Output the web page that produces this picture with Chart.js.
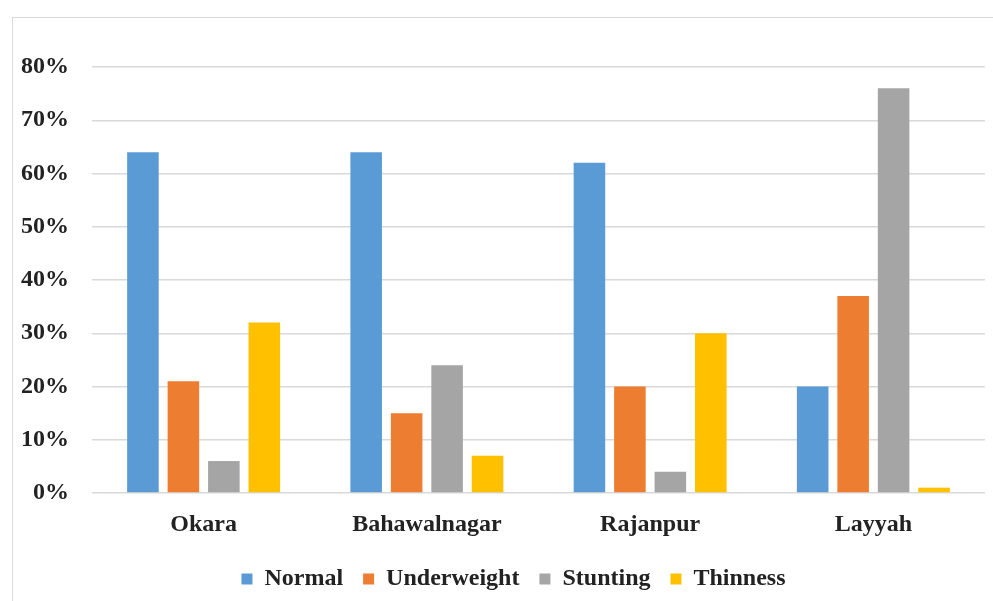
<!DOCTYPE html>
<html>
<head>
<meta charset="utf-8">
<script src="https://cdn.jsdelivr.net/npm/chart.js@4"></script>
<style>
  html, body { margin: 0; padding: 0; background: #fff; overflow: hidden; }
  #frame { position: absolute; left: 12px; top: 17px; width: 1200px; height: 800px; border: 1px solid #d9d9d9; }
  #wrap { position: absolute; left: 0; top: 0; width: 993px; height: 601px; }
</style>
</head>
<body>
<div id="frame"></div>
<div id="wrap"><canvas id="chart"></canvas></div>
<script>
  var districts = ['Okara', 'Bahawalnagar', 'Rajanpur', 'Layyah'];
  var normal = [64, 64, 62, 20];
  var underweight = [21, 15, 20, 37];
  var stunting = [6, 24, 4, 76];
  var thinness = [32, 7, 30, 1];
  var yTicks = [0, 10, 20, 30, 40, 50, 60, 70, 80];

  var font = { family: '"Liberation Serif", "Times New Roman", serif', size: 24, weight: 'bold' };
  var textColor = '#222';

  function series(label, data, color) {
    return {
      label: label,
      data: data,
      backgroundColor: color,
      borderWidth: 0,
      categoryPercentage: 0.725,
      barPercentage: 0.78
    };
  }

  // legend sits a little right of centre in the original
  var shiftLegend = {
    id: 'shiftLegend',
    afterLayout: function (chart) {
      if (!chart.legend) return;
      chart.legend.left += 21;
      chart.legend.right += 21;
    }
  };

  new Chart(document.getElementById('chart'), {
    type: 'bar',
    data: {
      labels: districts,
      datasets: [
        series('Normal', normal, '#5b9bd5'),
        series('Underweight', underweight, '#ed7d31'),
        series('Stunting', stunting, '#a5a5a5'),
        series('Thinness', thinness, '#ffc000')
      ]
    },
    plugins: [shiftLegend],
    options: {
      responsive: true,
      maintainAspectRatio: false,
      animation: false,
      layout: { padding: { top: 67, right: 8, left: 0, bottom: 0 } },
      plugins: {
        tooltip: { enabled: false },
        legend: {
          position: 'bottom',
          labels: {
            color: textColor,
            font: font,
            boxWidth: 11,
            boxHeight: 11,
            padding: 20
          }
        }
      },
      scales: {
        x: {
          grid: { display: false },
          border: { display: false },
          ticks: { color: textColor, font: font, padding: 9 },
          afterFit: function (s) { s.height = 54; }
        },
        y: {
          min: 0,
          max: 80,
          afterBuildTicks: function (s) {
            s.ticks = yTicks.map(function (v) { return { value: v }; });
          },
          grid: { color: '#d9d9d9', lineWidth: 1.5, drawTicks: false },
          border: { display: false },
          ticks: {
            color: textColor,
            font: font,
            padding: 23,
            callback: function (v) { return v + '%'; }
          },
          afterFit: function (s) { s.width = 92; }
        }
      }
    }
  });
</script>
</body>
</html>
